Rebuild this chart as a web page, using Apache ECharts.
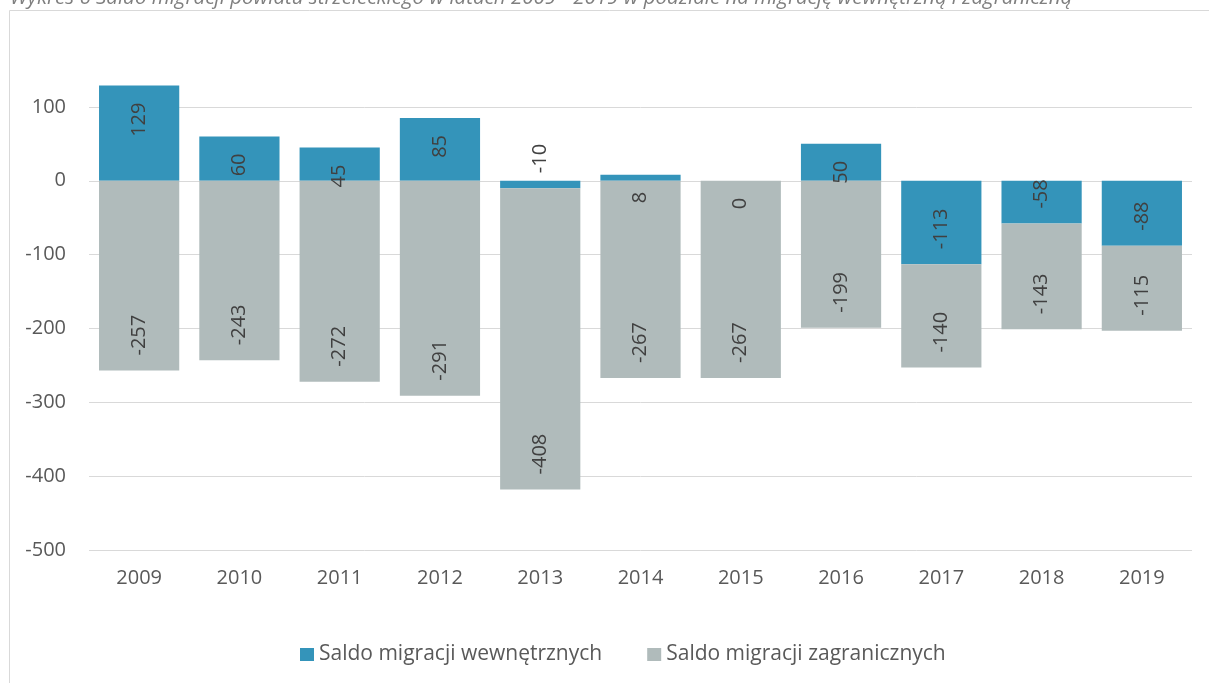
<!DOCTYPE html>
<html>
<head>
<meta charset="utf-8">
<script src="https://cdn.jsdelivr.net/npm/echarts@6/dist/echarts.min.js"></script>
<style>
  html, body { margin: 0; padding: 0; background: #fff; }
  #chart { width: 1209px; height: 683px; }
</style>
</head>
<body>
<div id="chart"></div>
<script>
// dane
var years = ['2009', '2010', '2011', '2012', '2013', '2014', '2015', '2016', '2017', '2018', '2019'];
var saldoWewn = [129, 60, 45, 85, -10, 8, 0, 50, -113, -58, -88];
var saldoZagr = [-257, -243, -272, -291, -408, -267, -267, -199, -140, -143, -115];
var seriesNames = ['Saldo migracji wewnętrznych', 'Saldo migracji zagranicznych'];
var chartTitle = 'Wykres 6 Saldo migracji powiatu strzeleckiego w latach 2009 - 2019 w podziale na migrację wewnętrzną i zagraniczną';

var FONT = '"Open Sans", "Noto Sans", sans-serif';

// etykiety obrocone, przy koncu slupka (jak w Excelu)
function withLabels(values) {
    return values.map(function (v) {
        var pos = v >= 0;
        return {
            value: v,
            label: {
                position: pos ? 'insideTop' : 'insideBottom',
                distance: pos ? 17 : 15,
                align: pos ? 'right' : 'left',
                verticalAlign: 'middle'
            }
        };
    });
}

var myChart = echarts.init(document.getElementById('chart'));

var labelStyle = {
    show: true,
    rotate: 90,
    color: '#404040',
    fontFamily: FONT,
    fontSize: 20
};

myChart.setOption({
    animation: false,
    textStyle: { fontFamily: FONT },
    graphic: [
        {
            type: 'rect',
            shape: { x: 9.5, y: 10.5, width: 1250, height: 720 },
            style: { fill: 'none', stroke: '#d9d9d9', lineWidth: 1 },
            silent: true
        },
        {
            type: 'text',
            left: 10,
            top: -12,
            style: {
                text: chartTitle,
                fontFamily: FONT,
                fontStyle: 'italic',
                fontSize: 20.5,
                fill: '#7f7f7f'
            },
            silent: true
        }
    ],
    grid: {
        left: 89,
        right: 17,
        top: 70,
        bottom: 133,
        containLabel: false
    },
    legend: {
        left: 295,
        top: 639,
        itemWidth: 14,
        itemHeight: 13,
        itemGap: 45,
        icon: 'rect',
        textStyle: { color: '#595959', fontSize: 21, fontFamily: FONT },
        data: seriesNames
    },
    xAxis: {
        type: 'category',
        data: years,
        axisLine: { show: false, onZero: false },
        axisTick: { show: false },
        axisLabel: { color: '#595959', fontSize: 20, margin: 18 }
    },
    yAxis: {
        type: 'value',
        min: -500,
        max: 150,
        interval: 100,
        axisLine: { show: false },
        axisTick: { show: false },
        axisLabel: {
            color: '#595959',
            fontSize: 20,
            margin: 23,
            showMaxLabel: false
        },
        splitLine: {
            show: true,
            showMaxLine: false,
            lineStyle: { color: '#d9d9d9', width: 1 }
        }
    },
    series: [
        {
            name: seriesNames[0],
            type: 'bar',
            stack: 'saldo',
            barCategoryGap: '20%',
            itemStyle: { color: '#3494ba' },
            label: labelStyle,
            data: withLabels(saldoWewn)
        },
        {
            name: seriesNames[1],
            type: 'bar',
            stack: 'saldo',
            barCategoryGap: '20%',
            itemStyle: { color: '#b0bbbb' },
            label: labelStyle,
            data: withLabels(saldoZagr)
        }
    ]
});
</script>
</body>
</html>
